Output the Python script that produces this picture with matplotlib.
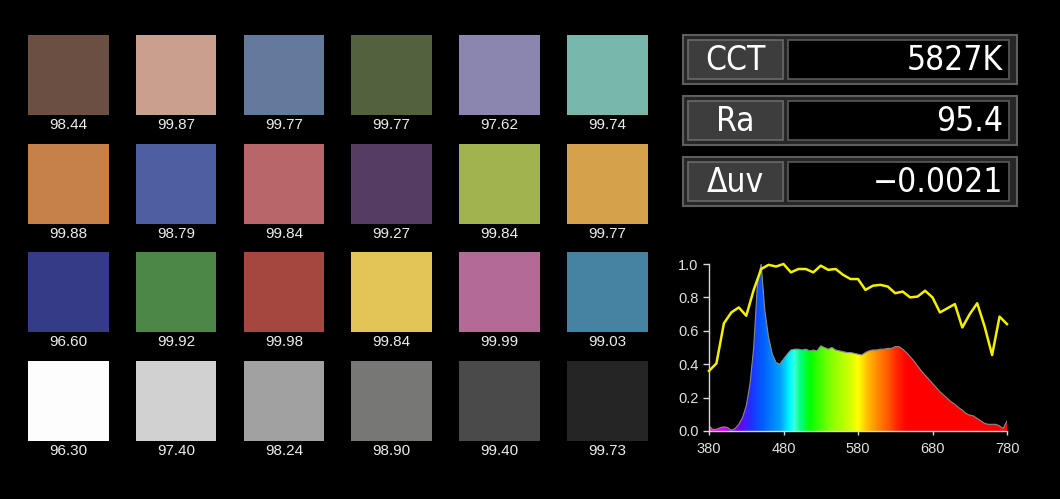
import numpy as np
import matplotlib.pyplot as plt
from matplotlib.colors import LinearSegmentedColormap
from matplotlib.patches import Rectangle, Polygon

# colour checker swatches (4 rows x 6 columns) and their scores
swatch_colors = [
    ['#6b4f42', '#c9a08e', '#637a9c', '#53613e', '#8a86b0', '#77b8ab'],
    ['#c6804a', '#4f5ea0', '#b8666a', '#543c63', '#a0b34e', '#d6a14b'],
    ['#363b88', '#4c8748', '#a5463f', '#e2c556', '#b36a96', '#4683a2'],
    ['#fdfdfd', '#d1d1d1', '#a1a1a1', '#777776', '#4a4a4a', '#252525'],
]
swatch_scores = [
    ['98.44', '99.87', '99.77', '99.77', '97.62', '99.74'],
    ['99.88', '98.79', '99.84', '99.27', '99.84', '99.77'],
    ['96.60', '99.92', '99.98', '99.84', '99.99', '99.03'],
    ['96.30', '97.40', '98.24', '98.90', '99.40', '99.73'],
]

# summary readings
info_labels = ['CCT', 'Ra', '\u0394uv']
info_values = ['5827K', '95.4', '\u22120.0021']

# relative spectral power, 5 nm steps
wl = np.arange(380, 785, 5)
spd = [0.03, 0.01, 0.01, 0.02, 0.025, 0.02, 0.005, 0.015, 0.04, 0.08,
       0.15, 0.28, 0.50, 0.88, 1.0, 0.72, 0.56, 0.46, 0.41, 0.40,
       0.43, 0.46, 0.485, 0.49, 0.49, 0.485, 0.49, 0.48, 0.485, 0.48,
       0.51, 0.50, 0.49, 0.50, 0.485, 0.48, 0.475, 0.47, 0.47, 0.465,
       0.46, 0.455, 0.47, 0.48, 0.485, 0.485, 0.49, 0.49, 0.495, 0.495,
       0.505, 0.505, 0.49, 0.47, 0.445, 0.42, 0.39, 0.36, 0.335, 0.31,
       0.285, 0.26, 0.235, 0.215, 0.195, 0.175, 0.16, 0.14, 0.125, 0.105,
       0.095, 0.09, 0.075, 0.06, 0.045, 0.04, 0.04, 0.04, 0.03, 0.015,
       0.06]

# per-10nm rendering ratio (yellow curve)
wl10 = np.arange(380, 790, 10)
ratio = [0.36, 0.405, 0.645, 0.71, 0.74, 0.69, 0.845, 0.97, 0.995, 0.985,
         1.0, 0.95, 0.97, 0.97, 0.95, 0.99, 0.965, 0.97, 0.935, 0.91,
         0.91, 0.845, 0.87, 0.875, 0.865, 0.825, 0.835, 0.80, 0.805, 0.84,
         0.80, 0.71, 0.735, 0.76, 0.62, 0.70, 0.765, 0.625, 0.455, 0.685,
         0.64]

fig = plt.figure(figsize=(10.6, 4.99), dpi=100, facecolor='black')

bg = fig.add_axes([0, 0, 1, 1])
bg.set_xlim(0, 1060)
bg.set_ylim(499, 0)
bg.axis('off')
bg.set_facecolor('black')

x0, y0, dx, dy, w, h = 28, 35, 107.8, 108.7, 80.5, 80
for r, row in enumerate(swatch_colors):
    for c, col in enumerate(row):
        x = x0 + c * dx
        y = y0 + r * dy
        bg.add_patch(Rectangle((x, y), w, h, facecolor=col, edgecolor='none'))
        bg.text(x + w / 2, y + h + 10, swatch_scores[r][c], ha='center', va='center',
                color='#ededed', fontsize=11, family=['Liberation Sans', 'DejaVu Sans'])

box_top = [35, 96, 157]
for i, (lab, val) in enumerate(zip(info_labels, info_values)):
    t = box_top[i]
    bg.add_patch(Rectangle((683, t), 334, 49, facecolor='#262626', edgecolor='#5e5e5e', lw=1.5))
    bg.add_patch(Rectangle((688, t + 5), 95, 39, facecolor='#3d3d3d', edgecolor='#6a6a6a', lw=1.2))
    bg.add_patch(Rectangle((788, t + 5), 221, 39, facecolor='black', edgecolor='#5a5a5a', lw=1.2))
    bg.text(735.5, t + 25, lab, ha='center', va='center', color='white',
            fontsize=24, family='DejaVu Sans', fontstretch='condensed')
    bg.text(1003, t + 25, val, ha='right', va='center', color='white',
            fontsize=24, family='DejaVu Sans', fontstretch='condensed')

# spectrum chart
ax = fig.add_axes([709 / 1060, 68 / 499, 298 / 1060, 167 / 499])
ax.set_facecolor('black')
ax.set_xlim(380, 780)
ax.set_ylim(0, 1)

spec_cmap = LinearSegmentedColormap.from_list('spec', [
    (0.0, '#ff00ff'), (0.05, '#d000ff'), (0.1, '#7000ff'), (0.1375, '#2030ff'),
    (0.18, '#0060ff'), (0.2375, '#00a0ff'), (0.2725, '#00ffff'), (0.2875, '#40ffd0'),
    (0.305, '#00ff80'), (0.3375, '#00ff00'), (0.405, '#80ff00'), (0.4725, '#d0ff00'),
    (0.5, '#ffff00'), (0.54, '#ffb000'), (0.5725, '#ff8000'), (0.6075, '#ff5000'),
    (0.635, '#ff2000'), (0.665, '#ff0000'), (1.0, '#ff0000')])
grad = np.linspace(0, 1, 400).reshape(1, -1)
img = ax.imshow(grad, cmap=spec_cmap, extent=(380, 780, 0, 1), aspect='auto',
                origin='lower', zorder=1)
poly = Polygon(np.column_stack([np.r_[380, wl, 780], np.r_[0, spd, 0]]),
               closed=True, facecolor='none', edgecolor='none', transform=ax.transData)
ax.add_patch(poly)
img.set_clip_path(poly)
ax.plot(wl, spd, color='#8a8a8a', lw=0.8, zorder=2)
ax.plot(wl10, ratio, color='#f5f000', lw=1.8, zorder=3, clip_on=False)

for side in ['top', 'right']:
    ax.spines[side].set_visible(False)
for side in ['left', 'bottom']:
    ax.spines[side].set_color('#d8d8d8')
    ax.spines[side].set_linewidth(1.0)
ax.set_xticks([380, 480, 580, 680, 780])
ax.set_yticks([0.0, 0.2, 0.4, 0.6, 0.8, 1.0])
ax.set_yticklabels(['0.0', '0.2', '0.4', '0.6', '0.8', '1.0'])
ax.tick_params(colors='#d8d8d8', labelcolor='#e0e0e0', labelsize=10.5, length=4, width=1)
ax.tick_params(axis='x', length=3, pad=5)
for lbl in ax.get_xticklabels() + ax.get_yticklabels():
    lbl.set_family(['Liberation Sans', 'DejaVu Sans'])

fig.savefig('out.png', dpi=100, facecolor='black')
